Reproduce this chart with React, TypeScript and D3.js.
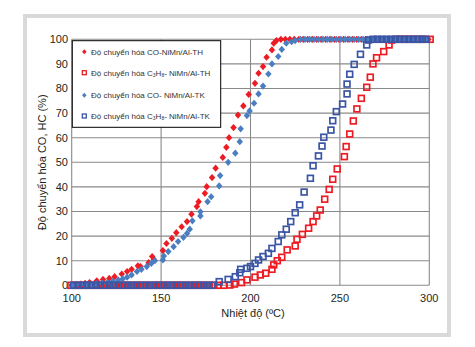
import React from "react";
import * as d3 from "d3";

// ---- Data (temperature °C, conversion %) ----
const xTicks = [100, 150, 200, 250, 300];
const yTicks = [0, 10, 20, 30, 40, 50, 60, 70, 80, 90, 100];

const coTH: [number, number][] = [
  [100, 0], [102.5, 0.3], [105, 0.5], [107.5, 0.8], [110, 1.1], [114, 1.8], [117.5, 2.4], [121, 2.8],
  [124, 3.5], [128, 4.6], [131, 5.6], [133.5, 6.5], [137, 7.9], [138.5, 7.6], [143, 9.2], [145, 11.7],
  [146, 10.5], [151, 14.1], [153, 17], [156, 19.1], [158.5, 21.4], [161.5, 23.8], [164.5, 25.9],
  [167, 28.9], [170, 32], [171, 34], [174.5, 37.4], [175.5, 40.1], [178.5, 43.8], [180.5, 47.6],
  [184.5, 52], [186.5, 56.1], [188, 60], [190.5, 64.1], [193, 69.2], [196, 72.9], [199, 77.6],
  [202.5, 82.1], [204.5, 86.2], [207, 88.9], [209, 92.7], [212, 95.7], [213, 98.4], [214.5, 99.5],
  [217, 100], [219.5, 100], [222, 100], [224.5, 100], [227, 100], [229.5, 100], [232, 100], [234.5, 100],
  [237, 100], [239.5, 100], [242, 100], [244.5, 100], [247, 100], [249.5, 100], [252, 100], [254.5, 100],
  [257, 100], [259.5, 100], [262, 100], [264.5, 100], [267, 100], [269.5, 100], [272, 100], [274.5, 100],
  [277, 100], [279.5, 100], [282, 100], [284.5, 100], [287, 100], [289.5, 100], [292, 100], [294.5, 100],
  [297, 100], [299.5, 100],
];

const c3TH: [number, number][] = [
  [99.5, 0], [102, 0], [104.5, 0], [107, 0], [109.5, 0], [112, 0], [114.5, 0], [117, 0], [119.5, 0],
  [122, 0], [124.5, 0], [127, 0], [129.5, 0], [132, 0], [134.5, 0], [137, 0], [139.5, 0], [142, 0],
  [144.5, 0], [147, 0], [149.5, 0], [152, 0], [154.5, 0], [157, 0], [159.5, 0], [162, 0], [164.5, 0],
  [167, 0], [169.5, 0], [172, 0], [174.5, 0], [177, 0], [179.5, 0], [182, 0], [185, 0], [188.5, 0.1],
  [191, 0.5], [195, 1.1], [198, 2.2], [202.5, 3.3], [205.5, 4.2], [208.5, 4.9], [212, 6.5], [213, 8.3],
  [215, 10], [217.5, 11.4], [220.5, 14.4], [225, 16], [226, 18.7], [229, 20.7], [232.5, 23.2],
  [235, 25.9], [237, 28.2], [239, 30.6], [241.5, 35], [244, 39], [246, 43.1], [248.5, 47.3],
  [252.5, 52.3], [253.5, 56.4], [255.5, 61.5], [257.5, 66.8], [259.5, 71.7], [262, 76], [265, 80.5],
  [267, 84.6], [268.5, 90], [270.5, 92.5], [274.5, 95], [277.5, 97.7], [279, 99.7], [281.5, 100],
  [284, 100], [286.5, 100], [289, 100], [291.5, 100], [294, 100], [296.5, 100], [300.5, 100],
];

const coTK: [number, number][] = [
  [100, 0], [102.5, 0.2], [105, 0.3], [108, 0.4], [111, 0.5], [114, 0.7], [117, 0.9], [120, 1.2],
  [123, 1.6], [126, 2.2], [128.5, 2.6], [131, 3.3], [133.5, 4.2], [136.5, 5.6], [139, 6.5], [142, 7.6],
  [144.5, 8.9], [146.5, 10], [151, 10.3], [151.5, 11.9], [154, 13.7], [157, 15.7], [159.5, 17.8],
  [162.5, 19.5], [164.5, 21.1], [166, 22.8], [167.5, 26.2], [172, 28.2], [172, 29.9], [176, 34],
  [178, 36], [182.5, 40.4], [183, 44.6], [187.5, 50], [191.5, 53.7], [194, 58.4], [194.5, 63.6],
  [198, 69], [199.5, 70.9], [202, 74], [204.5, 77.8], [207, 81], [210, 85.9], [212, 90], [215.5, 93],
  [217.5, 95.9], [220, 98.4], [223, 99], [225, 99.5], [228, 100], [230.5, 100], [233, 100], [235.5, 100],
  [238, 100], [240.5, 100], [243, 100], [245.5, 100], [248, 100], [250.5, 100], [253, 100], [255.5, 100],
  [258, 100], [260.5, 100], [263, 100], [265.5, 100], [268, 100], [270.5, 100], [273, 100], [275.5, 100],
  [278, 100], [280.5, 100], [283, 100], [285.5, 100], [288, 100], [290.5, 100], [293, 100], [295.5, 100],
  [298, 100],
];

const c3TK: [number, number][] = [
  [101, 0], [103.5, 0], [106, 0], [108.5, 0], [111, 0], [113.5, 0], [116, 0], [118.5, 0], [121, 0],
  [123.5, 0], [126, 0], [128.5, 0], [131, 0], [133.5, 0], [136, 0], [138.5, 0], [141, 0], [143.5, 0],
  [146, 0], [148.5, 0], [151, 0], [153.5, 0], [156, 0], [158.5, 0], [161, 0], [163.5, 0], [166, 0],
  [168.5, 0], [171, 0], [173.5, 0], [176, 0], [178.5, 0], [182.5, 1.5], [187.5, 2.4], [191.5, 3.5],
  [194, 5.1], [194.5, 6.5], [198, 6.9], [200, 7.6], [202.5, 8.9], [204.5, 10.3], [207, 11.7], [210, 13],
  [212, 15], [215.5, 17.8], [217.5, 20.5], [220, 22.8], [222.5, 25.9], [225, 29.5], [227.5, 32.7],
  [230, 37.9], [233.5, 43.5], [235, 48.6], [238, 52.6], [240, 56.6], [241, 60.2], [245, 63.1],
  [246, 66.9], [248, 70.6], [251.5, 73.7], [254, 77.8], [254, 81.8], [255.5, 85.8], [258, 89.8],
  [261.5, 93.9], [265, 97.7], [266, 99.7], [268.5, 100], [271, 100], [273.5, 100], [276, 100],
  [278.5, 100], [281, 100], [283.5, 100], [286, 100], [288.5, 100], [291, 100], [293.5, 100],
  [296, 100], [298, 100],
];

const legendLabels = [
  { pre: "Độ chuyển hóa CO-NiMn/Al-TH", c3: false },
  { pre: "Độ chuyển hóa C", c3: true, post: "- NiMn/Al-TH" },
  { pre: "Độ chuyển hóa CO- NiMn/Al-TK", c3: false },
  { pre: "Độ chuyển hóa C", c3: true, post: "- NiMn/Al-TK" },
];

const RED = "#ed1c24";
const BLUE_D = "#4a7ec0";
const BLUE_S = "#3a55a5";
const FONT = "'Liberation Sans', Arial, sans-serif";

const W = 475;
const H = 347;
const left = 71.7;
const right = 429.3;
const top = 39.3;
const bottom = 285.3;

export default function App() {
  const x = d3.scaleLinear().domain([100, 300]).range([left, right]);
  const y = d3.scaleLinear().domain([0, 100]).range([bottom, top]);

  const diamond = (s: number) => `M0,${-s}L${s * 0.9},0L0,${s}L${-s * 0.9},0Z`;

  const diamonds = (data: [number, number][], color: string) =>
    data.map(([t, v], i) => (
      <path key={i} d={diamond(3.6)} transform={`translate(${x(t)},${y(v)})`} fill={color} />
    ));
  const squares = (data: [number, number][], color: string) =>
    data.map(([t, v], i) => (
      <rect key={i} x={x(t) - 2.9} y={y(v) - 2.9} width={5.8} height={5.8} fill="none" stroke={color} strokeWidth={1.7} />
    ));

  const legendRows = [47.7, 68.7, 91.3, 112];
  const legendRowY = [51.7, 72.7, 95.3, 116];

  return (
    <svg width={W} height={H} style={{ position: "absolute", left: 0, top: 0, display: "block" }}>
      <rect x={0} y={0} width={W} height={H} fill="#fff" />
      <rect x={25} y={16} width={424} height={319} fill="#fff" stroke="#d9d9d9" strokeWidth={4} />

      {/* grid */}
      {yTicks.map((t) => (
        <line key={"gy" + t} x1={left} x2={right} y1={y(t)} y2={y(t)} stroke="#8a8a8a" strokeWidth={1.1} />
      ))}
      {xTicks.map((t) => (
        <line key={"gx" + t} x1={x(t)} x2={x(t)} y1={top} y2={bottom} stroke="#8a8a8a" strokeWidth={1.1} />
      ))}

      {/* tick labels */}
      {yTicks.map((t) => (
        <text key={"ly" + t} x={68} y={y(t)} dy="0.35em" textAnchor="end" fontFamily={FONT} fontSize={11} fill="#231f20">
          {t}
        </text>
      ))}
      {xTicks.map((t) => (
        <text key={"lx" + t} x={x(t)} y={301.5} textAnchor="middle" fontFamily={FONT} fontSize={11} fill="#231f20">
          {t}
        </text>
      ))}

      {/* axis titles */}
      <text x={253} y={317} textAnchor="middle" fontFamily={FONT} fontSize={11} fill="#231f20">
        Nhiệt độ (ºC)
      </text>
      <text transform={`translate(45.5,${(top + bottom) / 2}) rotate(-90)`} textAnchor="middle" fontFamily={FONT} fontSize={11} fill="#231f20">
        Độ chuyển hóa CO, HC (%)
      </text>

      {/* series */}
      <g>{diamonds(coTH, RED)}</g>
      <g>{squares(c3TH, RED)}</g>
      <g>{diamonds(coTK, BLUE_D)}</g>
      <g>{squares(c3TK, BLUE_S)}</g>

      {/* legend */}
      <rect x={72.3} y={40.7} width={148.4} height={86.6} fill="#fff" stroke="#000" strokeWidth={1} />
      {legendLabels.map((l, i) => {
        const cy = legendRowY[i];
        const color = i < 2 ? RED : i === 2 ? BLUE_D : BLUE_S;
        return (
          <g key={"lg" + i}>
            {l.c3 ? (
              <rect x={84.3 - 2} y={cy - 2} width={4} height={4} fill="none" stroke={color} strokeWidth={1.3} />
            ) : (
              <path d={diamond(2.5)} transform={`translate(84.3,${cy})`} fill={color} />
            )}
            <text x={91} y={cy} dy="0.35em" fontFamily={FONT} fontSize={8} fill="#333">
              {l.pre}
              {l.c3 ? (
                <>
                  <tspan fontSize={5} dy="1.5">3</tspan>
                  <tspan dy="-1.5">H</tspan>
                  <tspan fontSize={5} dy="1.5">8</tspan>
                  <tspan dy="-1.5">{l.post}</tspan>
                </>
              ) : null}
            </text>
          </g>
        );
      })}
    </svg>
  );
}
